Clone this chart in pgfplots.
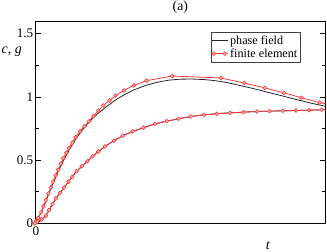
\documentclass[border=0pt]{standalone}
\usepackage{fontspec}
\setmainfont{Liberation Serif}
\usepackage{pgfplots}
\pgfplotsset{compat=1.18}
\definecolor{fered}{RGB}{250,55,55}
\definecolor{fefill}{RGB}{255,185,185}
\begin{document}
\begin{tikzpicture}[x=1bp,y=1bp]
\begin{axis}[
  at={(35bp,28.7bp)}, anchor=south west,
  scale only axis, width=290.7bp, height=202.3bp,
  xmin=0, xmax=1, ymin=0, ymax=1.6,
  xtick={0}, ytick={0,0.5,1,1.5}, minor y tick num=1,
  yticklabels={0,0.5,1,1.5},
  tick align=inside, ytick pos=both, xtick pos=bottom,
  major tick length=6bp, minor tick length=4bp,
  axis line style={line width=0.8bp},
  every tick/.style={line width=0.6bp, black},
  tick label style={font=\fontsize{13.2}{15}\selectfont},
  /pgf/number format/assume math mode=true,
  yticklabel style={inner sep=1.5bp},
  xticklabel style={inner sep=3.2bp, xshift=0.8bp},
  legend cell align=left,
  legend style={at={(0.912,0.946)}, anchor=north east, draw=black!75, line width=0.6bp,
    font=\fontsize{12.2}{14}\selectfont, inner xsep=0.5bp, inner ysep=1.5bp, row sep=-1.2bp},
  clip=true,
]
\addplot[black!85, line width=0.8bp, no markers,
  legend image code/.code={\path (0bp,0bp) -- (16bp,0bp);\draw[black!85,line width=0.8bp] (1.5bp,0bp) -- (13.5bp,0bp);}]
 coordinates {
(0,0)(0.02,0.08)(0.04,0.19)(0.06,0.305)(0.08,0.41)(0.10,0.505)(0.12,0.59)(0.14,0.665)
(0.16,0.73)(0.18,0.785)(0.20,0.835)(0.22,0.875)(0.25,0.93)(0.28,0.98)(0.31,1.02)
(0.34,1.055)(0.38,1.09)(0.42,1.115)(0.46,1.132)(0.50,1.14)(0.54,1.141)(0.58,1.137)
(0.62,1.128)(0.66,1.113)(0.70,1.093)(0.75,1.066)(0.80,1.037)(0.85,1.008)(0.90,0.978)
(0.95,0.950)(1.00,0.925)};
\addlegendentry{phase field}
\addplot[black!85, line width=0.8bp, no markers, forget plot] coordinates {
(0,0)(0.02,0.02)(0.04,0.07)(0.06,0.15)(0.08,0.222)(0.10,0.283)(0.12,0.342)(0.14,0.403)
(0.16,0.449)(0.18,0.490)(0.20,0.533)(0.22,0.571)(0.25,0.622)(0.28,0.664)(0.31,0.701)
(0.34,0.730)(0.38,0.762)(0.42,0.790)(0.46,0.811)(0.50,0.829)(0.55,0.849)(0.60,0.862)
(0.65,0.871)(0.70,0.877)(0.75,0.883)(0.80,0.887)(0.85,0.890)(0.90,0.892)(0.95,0.895)(1.00,0.898)};
\addplot[fered, line width=0.8bp, mark=*, mark size=1.9bp,
  mark options={draw=fered, fill=fefill, line width=0.6bp},
  legend image code/.code={\path (0bp,0bp) -- (16bp,0bp);\draw[fered,line width=0.8bp,mark=*,mark size=1.9bp,
     mark options={draw=fered,fill=fefill,line width=0.6bp}] plot coordinates {(2bp,0bp) (13bp,0bp)};}]
 coordinates {
(0,0)(0.003,0.018)(0.011,0.042)(0.021,0.087)(0.029,0.136)(0.037,0.183)(0.046,0.236)
(0.054,0.283)(0.062,0.330)(0.071,0.380)(0.080,0.425)(0.089,0.472)(0.097,0.515)
(0.108,0.557)(0.117,0.596)(0.128,0.638)(0.140,0.682)(0.155,0.727)(0.170,0.767)
(0.186,0.807)(0.201,0.849)(0.218,0.891)(0.235,0.932)(0.256,0.971)(0.277,1.010)
(0.306,1.051)(0.340,1.091)(0.384,1.128)(0.472,1.165)(0.640,1.149)(0.720,1.109)
(0.791,1.071)(0.856,1.032)(0.916,0.993)(0.979,0.955)(1.03,0.930)};
\addlegendentry{finite element}
\addplot[fered, line width=0.8bp, mark=*, mark size=1.9bp,
  mark options={draw=fered, fill=fefill, line width=0.6bp}, forget plot]
 coordinates {
(0,0)(0.008,0.013)(0.023,0.031)(0.037,0.060)(0.048,0.105)(0.060,0.152)(0.072,0.197)
(0.086,0.241)(0.100,0.283)(0.115,0.328)(0.128,0.367)(0.143,0.412)(0.161,0.451)
(0.180,0.490)(0.198,0.530)(0.218,0.569)(0.241,0.609)(0.272,0.654)(0.302,0.693)
(0.336,0.727)(0.373,0.756)(0.413,0.787)(0.453,0.808)(0.494,0.827)(0.536,0.845)
(0.581,0.858)(0.625,0.866)(0.671,0.874)(0.717,0.879)(0.763,0.884)(0.806,0.887)
(0.852,0.890)(0.898,0.892)(0.943,0.895)(0.986,0.898)(1.03,0.899)};
\end{axis}
\node[anchor=base, font=\fontsize{13.8}{15}\selectfont, inner sep=0pt] at (180.3bp,241.3bp) {(a)};
\node[anchor=base west, font=\fontsize{14}{15}\selectfont, inner sep=0pt] at (1.5bp,198bp) {\textit{c}, \textit{g}};
\node[anchor=base, font=\fontsize{14}{15}\selectfont, inner sep=0pt] at (268bp,2.3bp) {\textit{t}};
\pgfresetboundingbox
\path (0bp,0bp) rectangle (327bp,252bp);
\end{tikzpicture}
\end{document}
